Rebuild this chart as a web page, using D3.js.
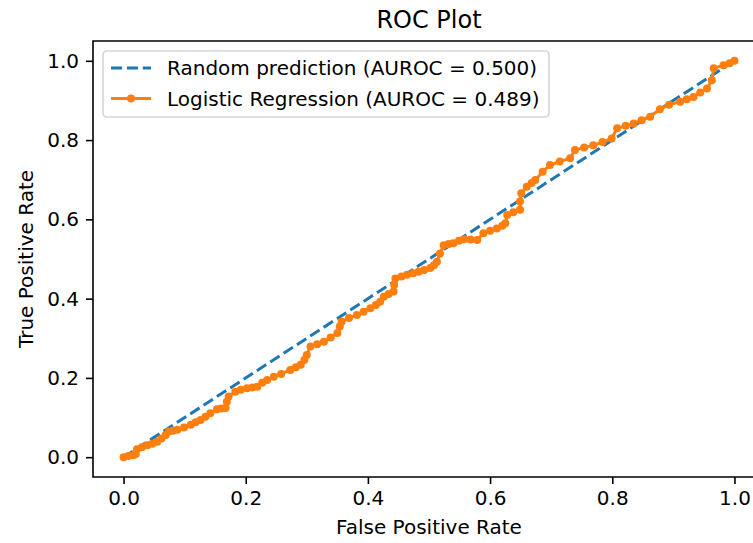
<!DOCTYPE html>
<html>
<head>
<meta charset="utf-8">
<script src="https://cdn.jsdelivr.net/npm/d3@7"></script>
<style>
  body { margin: 0; background: #fff; }
  svg { display: block; font-family: 'DejaVu Sans', sans-serif; }
</style>
</head>
<body>
<svg id="container" width="753" height="543"></svg>
<script>
(function (d3) {
  'use strict';

  // ROC points
  const fpr = [
    0.000, 0.008, 0.016, 0.020, 0.022, 0.030, 0.039, 0.047, 0.055, 0.062,
    0.069, 0.074, 0.081, 0.088, 0.099, 0.110, 0.118, 0.126, 0.134, 0.142,
    0.153, 0.160, 0.167, 0.169, 0.172, 0.183, 0.192, 0.202, 0.211, 0.219,
    0.227, 0.235, 0.246, 0.258, 0.273, 0.282, 0.290, 0.296, 0.300, 0.306,
    0.317, 0.328, 0.339, 0.350, 0.354, 0.357, 0.369, 0.382, 0.393, 0.404,
    0.413, 0.420, 0.426, 0.434, 0.442, 0.443, 0.445, 0.455, 0.464, 0.474,
    0.483, 0.492, 0.502, 0.508, 0.513, 0.518, 0.524, 0.532, 0.540, 0.549,
    0.557, 0.568, 0.579, 0.589, 0.600, 0.611, 0.620, 0.625, 0.628, 0.638,
    0.649, 0.649, 0.651, 0.660, 0.668, 0.674, 0.686, 0.698, 0.714, 0.731,
    0.739, 0.754, 0.769, 0.784, 0.799, 0.808, 0.822, 0.835, 0.848, 0.862,
    0.878, 0.893, 0.911, 0.922, 0.933, 0.944, 0.955, 0.963, 0.966, 0.982,
    0.992, 1.000
  ];
  const tpr = [
    0.000, 0.003, 0.005, 0.008, 0.020, 0.025, 0.030, 0.034, 0.039, 0.047,
    0.056, 0.065, 0.067, 0.069, 0.075, 0.082, 0.088, 0.094, 0.102, 0.111,
    0.121, 0.123, 0.124, 0.140, 0.153, 0.165, 0.170, 0.174, 0.176, 0.178,
    0.188, 0.195, 0.203, 0.210, 0.220, 0.227, 0.233, 0.245, 0.258, 0.279,
    0.285, 0.291, 0.302, 0.313, 0.330, 0.342, 0.351, 0.359, 0.367, 0.376,
    0.384, 0.392, 0.405, 0.412, 0.418, 0.435, 0.451, 0.456, 0.460, 0.464,
    0.468, 0.472, 0.477, 0.484, 0.493, 0.514, 0.535, 0.538, 0.540, 0.546,
    0.550, 0.549, 0.548, 0.565, 0.571, 0.577, 0.584, 0.590, 0.611, 0.618,
    0.624, 0.645, 0.666, 0.682, 0.692, 0.699, 0.720, 0.737, 0.746, 0.754,
    0.775, 0.781, 0.787, 0.795, 0.804, 0.830, 0.836, 0.842, 0.850, 0.859,
    0.878, 0.889, 0.897, 0.903, 0.909, 0.920, 0.930, 0.951, 0.981, 0.989,
    0.994, 1.000
  ];
  const randomFpr = [0, 1];
  const randomTpr = [0, 1];
  const ticks = [0, 0.2, 0.4, 0.6, 0.8, 1.0];
  const seriesNames = [
    'Random prediction (AUROC = 0.500)',
    'Logistic Regression (AUROC = 0.489)'
  ];

  const BLUE = '#1f77b4';
  const ORANGE = '#ff7f0e';
  const FONT_SIZE = 20;

  const svg = d3.select('#container');
  const left = 93, right = 765, top = 41, bottom = 477;

  const x = d3.scaleLinear().domain([-0.05, 1.05]).range([left, right]);
  const y = d3.scaleLinear().domain([-0.05, 1.05]).range([bottom, top]);

  const rocPoints = fpr.map((f, i) => ({ x: f, y: tpr[i] }));
  const randomPoints = randomFpr.map((f, i) => ({ x: f, y: randomTpr[i] }));

  const line = d3.line().x((d) => x(d.x)).y((d) => y(d.y));

  // axes
  const styleAxis = (g) => {
    g.select('.domain').remove();
    g.selectAll('.tick line').attr('stroke', '#000').attr('stroke-width', 1.6);
    g.selectAll('.tick text')
      .attr('fill', '#000')
      .style('font-size', FONT_SIZE + 'px')
      .style('font-family', 'DejaVu Sans');
  };

  svg.append('g')
    .attr('transform', `translate(0,${bottom})`)
    .call(d3.axisBottom(x).tickValues(ticks).tickFormat(d3.format('.1f'))
      .tickSize(7).tickPadding(7))
    .call(styleAxis);

  svg.append('g')
    .attr('transform', `translate(${left},0)`)
    .call(d3.axisLeft(y).tickValues(ticks).tickFormat(d3.format('.1f'))
      .tickSize(7).tickPadding(7))
    .call(styleAxis);

  // lines
  svg.append('path')
    .datum(randomPoints)
    .attr('d', line)
    .attr('fill', 'none')
    .attr('stroke', BLUE)
    .attr('stroke-width', 3)
    .attr('stroke-dasharray', '11.1,4.8');

  svg.append('path')
    .datum(rocPoints)
    .attr('d', line)
    .attr('fill', 'none')
    .attr('stroke', ORANGE)
    .attr('stroke-width', 3)
    .attr('stroke-linejoin', 'round');

  svg.append('g')
    .selectAll('circle')
    .data(rocPoints)
    .enter()
    .append('circle')
    .attr('cx', (d) => x(d.x))
    .attr('cy', (d) => y(d.y))
    .attr('r', 4)
    .attr('fill', ORANGE);

  // spines
  svg.append('path')
    .attr('d', `M${left},${bottom}H${right}V${top}H${left}Z`)
    .attr('fill', 'none')
    .attr('stroke', '#000')
    .attr('stroke-width', 1.6)
    .attr('stroke-linecap', 'square');

  // legend
  const legend = svg.append('g');
  legend.append('rect')
    .attr('x', 103).attr('y', 51)
    .attr('width', 446).attr('height', 66)
    .attr('rx', 4)
    .attr('fill', 'rgba(255,255,255,0.8)')
    .attr('stroke', '#d5d5d5')
    .attr('stroke-width', 1.6);

  const rows = [68, 98.5];
  legend.append('line')
    .attr('x1', 111).attr('x2', 151)
    .attr('y1', rows[0]).attr('y2', rows[0])
    .attr('stroke', BLUE).attr('stroke-width', 3)
    .attr('stroke-dasharray', '11.1,4.8');
  legend.append('line')
    .attr('x1', 111).attr('x2', 151)
    .attr('y1', rows[1]).attr('y2', rows[1])
    .attr('stroke', ORANGE).attr('stroke-width', 3);
  legend.append('circle')
    .attr('cx', 131).attr('cy', rows[1]).attr('r', 4).attr('fill', ORANGE);

  legend.selectAll('text')
    .data(seriesNames)
    .enter()
    .append('text')
    .attr('x', 167)
    .attr('y', (d, i) => rows[i] + 7)
    .style('font-size', FONT_SIZE + 'px')
    .attr('fill', '#000')
    .text((d) => d);

  // titles
  svg.append('text')
    .attr('x', (left + right) / 2)
    .attr('y', 28)
    .attr('text-anchor', 'middle')
    .style('font-size', '24px')
    .text('ROC Plot');

  svg.append('text')
    .attr('x', (left + right) / 2)
    .attr('y', 534)
    .attr('text-anchor', 'middle')
    .style('font-size', FONT_SIZE + 'px')
    .text('False Positive Rate');

  svg.append('text')
    .attr('transform', `translate(33,${(top + bottom) / 2}) rotate(-90)`)
    .attr('text-anchor', 'middle')
    .style('font-size', FONT_SIZE + 'px')
    .text('True Positive Rate');

}(d3));
</script>
</body>
</html>
